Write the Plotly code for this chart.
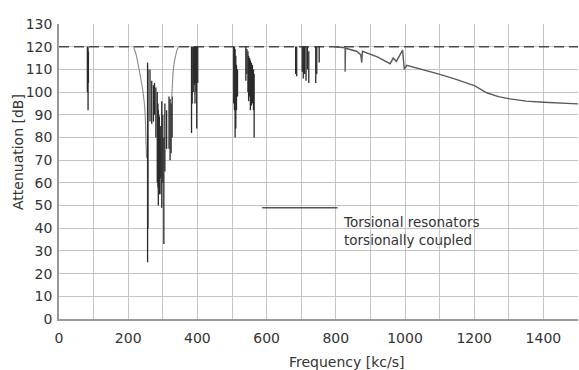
import plotly.graph_objects as go

# ---------------- data ----------------
freq_tickvals = [0, 200, 400, 600, 800, 1000, 1200, 1400]
atten_tickvals = [0, 10, 20, 30, 40, 50, 60, 70, 80, 90, 100, 110, 120, 130]

limit_freq = [0, 1500]
limit_atten = [120, 120]

# resonance spikes (frequency kc/s, upper end dB, lower end dB)
spike_freq = [82, 84, 85,
              256, 257, 263, 268, 273, 276, 280, 284, 286, 287, 289, 290, 292, 294,
              297, 300, 303, 306, 311, 318, 321, 324, 327,
              383, 385, 388, 390, 391, 393, 395, 396, 398, 401,
              505, 507, 509, 511, 513, 516,
              540, 543, 546, 548, 551, 553, 556, 559, 562, 564,
              684, 687, 703, 706, 708, 710, 714, 718, 722, 742, 745, 752]
spike_top = [120, 120, 118,
             113, 110, 110, 105, 103, 104, 102, 100, 95, 92, 90, 89, 80, 85,
             96, 90, 80, 95, 92, 98, 97, 95, 98,
             120, 120, 120, 120, 120, 120, 120, 120, 120, 120,
             120, 120, 119, 116, 112, 110,
             120, 119, 118, 116, 115, 114, 113, 112, 110, 108,
             120, 120, 120, 120, 120, 120, 120, 120, 118, 120, 120, 120]
spike_bottom = [100, 92, 104,
                25, 40, 87, 86, 87, 90, 80, 60, 58, 50, 57, 55, 55, 62,
                49, 60, 33, 65, 75, 75, 70, 73, 80,
                82, 95, 100, 104, 103, 95, 104, 100, 84, 104,
                95, 92, 80, 84, 92, 98,
                105, 108, 100, 96, 98, 92, 94, 95, 92, 80,
                108, 107, 109, 106, 108, 108, 105, 110, 104, 104, 108, 113]

# filter pass-band envelope
env_left_freq = [215, 222, 229, 235, 241, 246, 249, 251, 253]
env_left_atten = [120, 117, 112, 107, 102, 96, 90, 80, 71]
env_right_freq = [345, 341, 337, 333, 330, 328, 326]
env_right_atten = [120, 118.5, 116, 113, 109, 104, 98]

# upper continuous response
tail_freq = [795, 827, 827, 828, 860, 872, 875, 877, 920, 957, 966, 975, 993,
             997, 998, 1005, 1050, 1101, 1150, 1202, 1236, 1270, 1303, 1350,
             1400, 1450, 1500]
tail_atten = [120, 119.5, 109, 119.3, 118, 116.5, 113, 118, 115.5, 112.5, 115,
              113.5, 118.5, 111, 110, 111.8, 110, 107.8, 105.5, 102.7, 99.7,
              98, 97, 96, 95.5, 95, 94.8]

legend_key_freq = [587, 805]
legend_key_atten = [49, 49]

label_text = "Torsional resonators<br>torsionally coupled"

# ---------------- figure ----------------
INK = "#2a2a2a"
TEXT = "#333333"
FONT = "DejaVu Sans"

sx, sy = [], []
for f, t, b in zip(spike_freq, spike_top, spike_bottom):
    sx += [f, f, None]
    sy += [t, b, None]

fig = go.Figure()
fig.add_trace(go.Scatter(x=limit_freq, y=limit_atten, mode="lines",
                         line=dict(color="#4a4a4a", width=1.5, dash="10px,5px"),
                         hoverinfo="skip"))
fig.add_trace(go.Scatter(x=env_left_freq, y=env_left_atten, mode="lines",
                         line=dict(color="#8a8a8a", width=1.1, shape="spline")))
fig.add_trace(go.Scatter(x=env_right_freq, y=env_right_atten, mode="lines",
                         line=dict(color="#8a8a8a", width=1.1, shape="spline")))
fig.add_trace(go.Scatter(x=sx, y=sy, mode="lines",
                         line=dict(color=INK, width=1.3), connectgaps=False))
fig.add_trace(go.Scatter(x=tail_freq, y=tail_atten, mode="lines",
                         line=dict(color="#5a5a5a", width=1.4)))
fig.add_trace(go.Scatter(x=legend_key_freq, y=legend_key_atten, mode="lines",
                         line=dict(color="#555555", width=1.4)))

fig.add_annotation(x=816, y=39, xref="x", yref="y", text=label_text,
                   showarrow=False, xanchor="left", yanchor="middle", align="left",
                   font=dict(family=FONT, size=13.5, color=TEXT))
fig.add_annotation(x=0.555, y=-0.146, xref="paper", yref="paper",
                   text="Frequency [kc/s]", showarrow=False,
                   xanchor="center", yanchor="middle",
                   font=dict(family=FONT, size=14, color=TEXT))
fig.add_annotation(x=-0.079, y=0.566, xref="paper", yref="paper",
                   text="Attenuation [dB]", showarrow=False, textangle=-90,
                   xanchor="center", yanchor="middle",
                   font=dict(family=FONT, size=14, color=TEXT))

fig.update_layout(
    width=579, height=370,
    margin=dict(l=59, r=1, t=24, b=51),
    paper_bgcolor="white", plot_bgcolor="white",
    showlegend=False,
    font=dict(family=FONT, size=14, color=TEXT),
)
fig.update_xaxes(range=[0, 1500], tickvals=freq_tickvals,
                 showgrid=True, gridcolor="#c4c4c4", gridwidth=1.2,
                 minor=dict(dtick=100, showgrid=True, gridcolor="#c4c4c4", gridwidth=1.2),
                 showline=True, linecolor="#9a9a9a", linewidth=1.5,
                 zeroline=False, ticks="", ticklabelstandoff=5,
                 tickfont=dict(family=FONT, size=14, color=TEXT))
fig.update_yaxes(range=[0, 130], tickvals=atten_tickvals,
                 showgrid=True, gridcolor="#c4c4c4", gridwidth=1.2,
                 showline=True, linecolor="#9a9a9a", linewidth=1.5,
                 zeroline=False, ticks="", ticklabelstandoff=2,
                 tickfont=dict(family=FONT, size=14, color=TEXT))

fig.write_html("out.html")
